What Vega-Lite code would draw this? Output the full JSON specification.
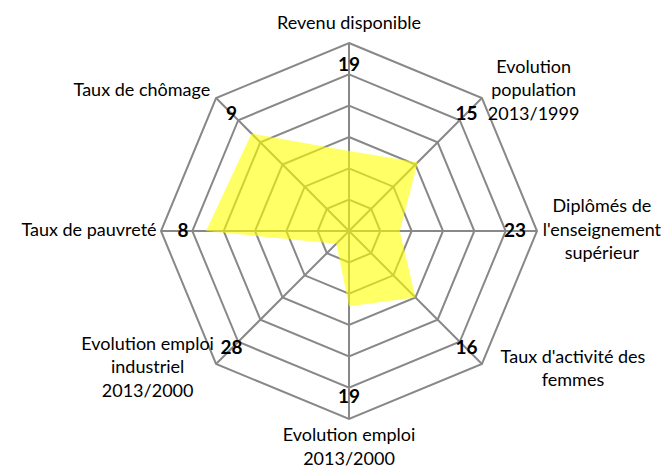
{
  "$schema": "https://vega.github.io/schema/vega-lite/v6.json",
  "width": 376,
  "height": 376,
  "autosize": {"type": "none"},
  "padding": {"left": 161, "top": 43, "right": 133, "bottom": 52},
  "background": "white",
  "config": {"view": {"stroke": null}, "text": {"font": "Lato"}},
  "datasets": {
    "cats": [
      {"idx": 0, "label": "Revenu disponible", "value": 2.55, "rank": 19},
      {"idx": 1, "label": "Evolution\npopulation\n2013/1999", "value": 3.1, "rank": 15},
      {"idx": 2, "label": "Diplômés de\nl'enseignement\nsupérieur", "value": 1.62, "rank": 23},
      {"idx": 3, "label": "Taux d'activité des\nfemmes", "value": 3.0, "rank": 16},
      {"idx": 4, "label": "Evolution emploi\n2013/2000", "value": 2.4, "rank": 19},
      {"idx": 5, "label": "Evolution emploi\nindustriel\n2013/2000", "value": 0.57, "rank": 28},
      {"idx": 6, "label": "Taux de pauvreté", "value": 4.56, "rank": 8},
      {"idx": 7, "label": "Taux de chômage", "value": 4.4, "rank": 9}
    ]
  },
  "data": {"name": "cats"},
  "transform": [
    {"calculate": "datum.idx * PI / 4", "as": "a"},
    {"calculate": "0", "as": "zero"}
  ],
  "layer": [
    {
      "transform": [
        {"calculate": "[1,2,3,4,5,6]", "as": "ring"},
        {"flatten": ["ring"]},
        {"calculate": "datum.ring * sin(datum.a)", "as": "gx"},
        {"calculate": "datum.ring * cos(datum.a)", "as": "gy"}
      ],
      "mark": {"type": "line", "interpolate": "linear-closed", "stroke": "#888888", "strokeWidth": 2},
      "encoding": {
        "x": {"field": "gx", "type": "quantitative", "scale": {"domain": [-6, 6], "nice": false, "zero": false}, "axis": null},
        "y": {"field": "gy", "type": "quantitative", "scale": {"domain": [-6, 6], "nice": false, "zero": false}, "axis": null},
        "detail": {"field": "ring", "type": "nominal"},
        "order": {"field": "idx", "type": "quantitative"}
      }
    },
    {
      "transform": [
        {"calculate": "6 * sin(datum.a)", "as": "sx"},
        {"calculate": "6 * cos(datum.a)", "as": "sy"}
      ],
      "mark": {"type": "rule", "stroke": "#888888", "strokeWidth": 2},
      "encoding": {
        "x": {"field": "zero", "type": "quantitative"},
        "y": {"field": "zero", "type": "quantitative"},
        "x2": {"field": "sx"},
        "y2": {"field": "sy"}
      }
    },
    {
      "transform": [
        {"calculate": "datum.value * sin(datum.a)", "as": "px"},
        {"calculate": "datum.value * cos(datum.a)", "as": "py"}
      ],
      "mark": {"type": "line", "interpolate": "linear-closed", "filled": true, "color": "#ffff00", "opacity": 0.6},
      "encoding": {
        "x": {"field": "px", "type": "quantitative"},
        "y": {"field": "py", "type": "quantitative"},
        "order": {"field": "idx", "type": "quantitative"}
      }
    },
    {
      "transform": [
        {"calculate": "5.3 * sin(datum.a)", "as": "rx"},
        {"calculate": "5.3 * cos(datum.a)", "as": "ry"}
      ],
      "mark": {"type": "text", "fontWeight": "bold", "fontSize": 19, "color": "#000000", "align": "center", "baseline": "middle"},
      "encoding": {
        "x": {"field": "rx", "type": "quantitative"},
        "y": {"field": "ry", "type": "quantitative"},
        "text": {"field": "rank", "type": "nominal"}
      }
    },
    {
      "transform": [
        {"calculate": "split(datum.label, '\\n')", "as": "lines"},
        {"calculate": "max(length(datum.lines[0]), datum.lines.length > 1 ? length(datum.lines[1]) : 0, datum.lines.length > 2 ? length(datum.lines[2]) : 0)", "as": "nchar"},
        {"calculate": "sin(datum.a) > 0.1 ? 1 : (sin(datum.a) < -0.1 ? -1 : 0)", "as": "side"},
        {"calculate": "[6.6, 6.3, 6.06, 6.25, 6.92, 6.2, 6.0, 6.3][datum.idx]", "as": "lr"},
        {"calculate": "datum.lr * sin(datum.a) + datum.side * datum.nchar * (datum.idx == 5 ? 4.0 : 4.5) / 31.33", "as": "lx"},
        {"calculate": "datum.lr * cos(datum.a) + (datum.lines.length - 1) * 0.5 * 23.5 / 31.33", "as": "ly"}
      ],
      "mark": {"type": "text", "fontSize": 18, "color": "#000000", "align": "center", "baseline": "middle", "lineHeight": 23.5},
      "encoding": {
        "x": {"field": "lx", "type": "quantitative"},
        "y": {"field": "ly", "type": "quantitative"},
        "text": {"field": "lines", "type": "nominal"}
      }
    }
  ]
}
